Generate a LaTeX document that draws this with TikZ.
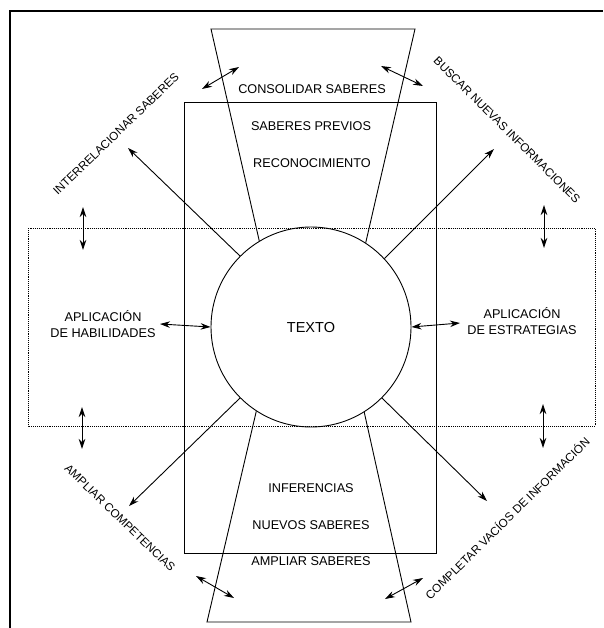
\documentclass[tikz,border=0pt]{standalone}
\usepackage{fontspec}
\setmainfont{Liberation Sans}
\usetikzlibrary{arrows.meta}
\begin{document}
\begin{tikzpicture}[x=1pt,y=-1pt,
 lbl/.style={font=\fontsize{12.7}{16}\selectfont, align=center, inner sep=0pt},
 dlbl/.style={font=\fontsize{11.7}{14}\selectfont, inner sep=0pt},
 ln/.style={line width=0.9pt},
 tip/.style={},
 arr/.style={line width=0.9pt, -{Stealth[length=10pt,width=6.5pt]}},
 darr/.style={line width=0.9pt, {Stealth[length=10pt,width=6.5pt]}-{Stealth[length=10pt,width=6.5pt]}},
]
\useasboundingbox (0,0) rectangle (603,628);
% frame
\draw[line width=1.6pt] (10,628) -- (10,11) -- (603,11);
% dotted rectangle
\draw[line width=0.9pt, densely dotted] (28,228) rectangle (595,426);
% solid rectangle
\draw[ln] (184,102) rectangle (436,553);
% circle
\node[draw, ln, circle, minimum size=200pt, inner sep=0pt, fill=white, fill opacity=0] (texto) at (311,327) {};
\node[lbl, font=\fontsize{14.5}{16}\selectfont] (textolbl) at (311,328) {TEXTO};
% trapezoids
\coordinate (ttl) at (211,29);
\coordinate (ttr) at (415,29);
\coordinate (tbl) at (207,622);
\coordinate (tbr) at (411,622);
\draw[ln] (texto.121.6) -- (ttl) -- (ttr) -- (texto.57.6);
\draw[ln] (texto.237.9) -- (tbl) -- (tbr) -- (texto.302.6);
% texts inside
\node[lbl] (cons) at (312,89) {CONSOLIDAR SABERES};
\node[lbl] (prev) at (311,126) {SABERES PREVIOS};
\node[lbl] (reco) at (312,163) {RECONOCIMIENTO};
\node[lbl] (infe) at (311,488) {INFERENCIAS};
\node[lbl] (nuev) at (311,525) {NUEVOS SABERES};
\node[lbl] (ampl) at (311,561) {AMPLIAR SABERES};
\node[lbl] (habi) at (103,324) {APLICACIÓN\\DE HABILIDADES};
\node[lbl] (estr) at (522,321) {APLICACIÓN\\DE ESTRATEGIAS};
% diagonal labels
\node[dlbl, rotate=44] (inter) at (116,134) {INTERRELACIONAR SABERES};
\node[dlbl, rotate=-45] (busc) at (507,130) {BUSCAR NUEVAS INFORMACIONES};
\node[dlbl, rotate=-44] (comp) at (120,518) {AMPLIAR COMPETENCIAS};
\node[dlbl, rotate=44.5] (vac) at (507,518) {COMPLETAR VACÍOS DE INFORMACIÓN};
% diagonal arrows from circle
\coordinate (atl) at (128,148);
\coordinate (atr) at (494,149);
\coordinate (abl) at (129,506);
\coordinate (abr) at (487,501);
\draw[arr] (texto.135) -- (atl);
\draw[arr] (texto.43.4) -- (atr);
\draw[arr] (texto.225) -- (abl);
\draw[arr] (texto.-45) -- (abr);
% horizontal double arrows
\coordinate (hl) at (160,324);
\coordinate (hr) at (460,323);
\draw[darr] (hl) -- (texto.180);
\draw[darr] (texto.0) -- (hr);
% vertical double arrows
\coordinate (v1a) at (83,207); \coordinate (v1b) at (83,250);
\coordinate (v2a) at (544,205); \coordinate (v2b) at (544,248);
\coordinate (v3a) at (82,407); \coordinate (v3b) at (82,449);
\coordinate (v4a) at (543,404); \coordinate (v4b) at (543,448);
\draw[darr] (v1a) -- (v1b);
\draw[darr] (v2a) -- (v2b);
\draw[darr] (v3a) -- (v3b);
\draw[darr] (v4a) -- (v4b);
% small diagonal double arrows
\coordinate (d1a) at (202,89); \coordinate (d1b) at (239,67);
\coordinate (d2a) at (381,66); \coordinate (d2b) at (423,86);
\coordinate (d3a) at (196,576); \coordinate (d3b) at (234,598);
\coordinate (d4a) at (385,599); \coordinate (d4b) at (423,578);
\draw[darr] (d1a) -- (d1b);
\draw[darr] (d2a) -- (d2b);
\draw[darr] (d3a) -- (d3b);
\draw[darr] (d4a) -- (d4b);
\end{tikzpicture}
\end{document}
